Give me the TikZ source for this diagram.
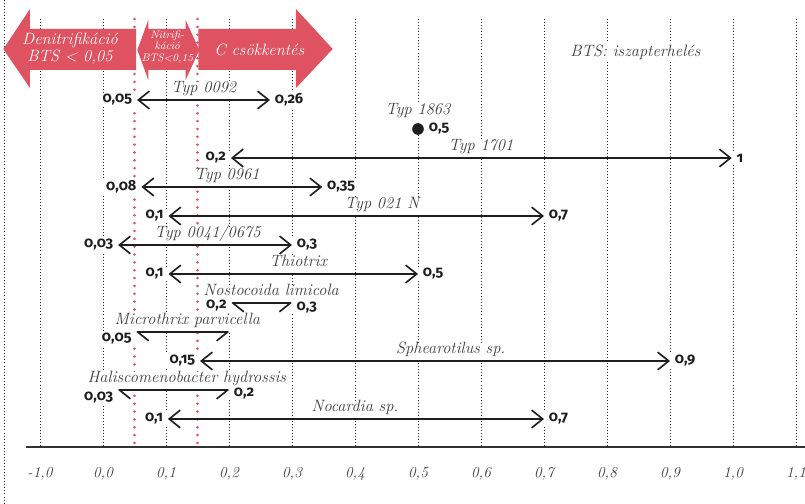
\documentclass[tikz,border=0pt]{standalone}
\usepackage{fontspec}
\usetikzlibrary{arrows.meta, positioning}

\newfontfamily\numfont[Numbers=OldStyle]{Fira Sans}
\definecolor{btsred}{RGB}{222,82,98}
\definecolor{labgray}{RGB}{62,62,62}
\definecolor{numblack}{RGB}{30,30,30}
\pgfdeclarelayer{gridlayer}
\pgfdeclarelayer{arrowlayer}
\pgfsetlayers{gridlayer,arrowlayer,main}

\tikzset{
  gridline/.style={line width=0.7pt, dash pattern=on 0.7pt off 1.9pt, black!85},
  redline/.style={line width=2.2pt, line cap=round, dash pattern=on 0.1pt off 6.6pt, btsred},
  band/.style={fill=btsred, draw=none},
  bandtext/.style={text=white, align=center, font=\itshape\fontsize{14}{14}\selectfont},
  lab/.style={fill=white, inner sep=0pt, anchor=south, text height=9pt, text depth=5pt, text=labgray, font=\itshape\fontsize{14}{15}\selectfont},
  num/.style={fill=white, inner xsep=4pt, inner ysep=1pt, text=numblack, font=\numfont\bfseries\fontsize{12.5}{14}\selectfont},
  spanarr/.style={line width=1.4pt, numblack, {Straight Barb[length=3.3mm,width=5.3mm]}-{Straight Barb[length=3.3mm,width=5.3mm]}},
  ticklab/.style={text=labgray, font=\itshape\fontsize{13}{14}\selectfont}
}

\begin{document}
\begin{tikzpicture}[x=18.9cm, y=-0.03cm]
  \useasboundingbox (-0.16349,0) rectangle (1.11429,504);

  % grid and axis
  \begin{pgfonlayer}{gridlayer}
  \draw[gridline] (-0.1571,0) -- (-0.1571,504);
  \foreach \v in {-0.1,0,0.1,0.2,0.3,0.4,0.5,0.6,0.7,0.8,0.9,1.0,1.1}
    \draw[gridline] (\v,19) -- (\v,447);
  \draw[redline] (0.05,19) -- (0.05,447);
  \draw[redline] (0.15,19) -- (0.15,447);
  \end{pgfonlayer}
  \draw[line width=1.6pt, black!80] (-0.122,447) -- (1.12,447);
  \foreach \v/\t [count=\i] in {-0.1/{-1,0}, 0/{0,0}, 0.1/{0,1}, 0.2/{0,2}, 0.3/{0,3}, 0.4/{0,4}, 0.5/{0,5}, 0.6/{0,6}, 0.7/{0,7}, 0.8/{0,8}, 0.9/{0,9}, 1.0/{1,0}, 1.1/{1,1}}
    \node[ticklab] (tick\i) at (\v,474) {\t};

  % red bands
  \fill[band] (-0.1583,49) -- (-0.1159,9) -- (-0.1159,29) -- (0.0524,29) -- (0.0524,70) -- (-0.1159,70) -- (-0.1159,88) -- cycle;
  \fill[band] (0.0545,50) -- (0.0719,20) -- (0.0719,29) -- (0.1312,29) -- (0.1312,20) -- (0.1529,50) -- (0.1312,80) -- (0.1312,70) -- (0.0719,70) -- (0.0719,80) -- cycle;
  \fill[band] (0.1513,29) -- (0.3063,29) -- (0.3063,9) -- (0.3646,49) -- (0.3063,88) -- (0.3063,70) -- (0.1513,70) -- cycle;
  \node[bandtext] (denitri) at (-0.0524,49) {Denitrifikáció\\BTS < 0,05};
  \node[bandtext, font=\itshape\fontsize{9.3}{9.8}\selectfont] (nitri) at (0.102,47) {Nitrifi-\\káció\\BTS<0,15};
  \node[bandtext] (ccsokk) at (0.248,50) {C csökkentés};
  \node[fill=white, inner sep=1pt, text=labgray, font=\itshape\fontsize{14}{15}\selectfont] (iszap) at (0.845,52) {BTS: iszapterhelés};

  % labels
  \node[lab] (t0092) at (0.160,99) {Typ 0092};
  \node[lab] (t1863) at (0.5,121) {Typ 1863};
  \node[lab] (t1701) at (0.600,157) {Typ 1701};
  \node[lab] (t0961) at (0.197,186) {Typ 0961};
  \node[lab] (t021) at (0.443,215) {Typ 021 N};
  \node[lab] (t0041) at (0.166,244) {Typ 0041/0675};
  \node[lab] (tthio) at (0.310,273) {Thiotrix};
  \node[lab] (tnost) at (0.267,302) {Nostocoida limicola};
  \node[lab] (tmicro) at (0.134,331) {Microthrix parvicella};
  \node[lab] (tsphe) at (0.552,360) {Sphearotilus sp.};
  \node[lab] (thali) at (0.133,389) {Haliscomenobacter hydrossis};
  \node[lab] (tnoca) at (0.400,418) {Nocardia sp.};

  % values
  \node[num, anchor=east] (l0092) at (0.054,100) {0,05};
  \node[num, anchor=west] (r0092) at (0.265,100) {0,26};
  \node[circle, fill=numblack, minimum size=3.5mm, inner sep=0pt] (d1863) at (0.5,129) {};
  \node[num, right=0pt of d1863] (n1863) {0,5};
  \node[num, anchor=east] (l1701) at (0.203,158) {0,2};
  \node[num, anchor=west] (r1701) at (0.998,158) {1};
  \node[num, anchor=east] (l0961) at (0.061,187) {0,08};
  \node[num, anchor=west] (r0961) at (0.348,187) {0,35};
  \node[num, anchor=east] (l021) at (0.104,216) {0,1};
  \node[num, anchor=west] (r021) at (0.700,216) {0,7};
  \node[num, anchor=east] (l0041) at (0.024,245) {0,03};
  \node[num, anchor=west] (r0041) at (0.300,245) {0,3};
  \node[num, anchor=east] (lthio) at (0.104,274) {0,1};
  \node[num, anchor=west] (rthio) at (0.500,274) {0,5};
  \coordinate (anost) at (0.204,303);
  \coordinate (bnost) at (0.2995,303);
  \node[num, anchor=east, yshift=-0.9mm] (lnost) at (anost) {0,2};
  \node[num, anchor=west, yshift=-1.3mm] (rnost) at (bnost) {0,3};
  \coordinate (amicro) at (0.053,332);
  \coordinate (bmicro) at (0.2,332);
  \node[num, anchor=east, yshift=-2.1mm] (lmicro) at (amicro) {0,05};
  \node[num, anchor=east] (lsphe) at (0.154,361) {0,15};
  \node[num, anchor=west] (rsphe) at (0.900,361) {0,9};
  \coordinate (ahali) at (0.024,390);
  \coordinate (bhali) at (0.200,390);
  \node[num, anchor=east, yshift=-2.4mm] (lhali) at (ahali) {0,03};
  \node[num, anchor=west, yshift=-1.1mm] (rhali) at (bhali) {0,2};
  \node[num, anchor=east] (lnoca) at (0.103,419) {0,1};
  \node[num, anchor=west] (rnoca) at (0.700,419) {0,7};

  % ranges, under the labels
  \begin{pgfonlayer}{arrowlayer}
  \draw[spanarr] (l0092.east) -- (r0092.west);
  \draw[spanarr] (l1701.east) -- (r1701.west);
  \draw[spanarr] (l0961.east) -- (r0961.west);
  \draw[spanarr] (l021.east) -- (r021.west);
  \draw[spanarr] (l0041.east) -- (r0041.west);
  \draw[spanarr] (lthio.east) -- (rthio.west);
  \draw[spanarr] (anost) -- (bnost);
  \draw[spanarr] (amicro) -- (bmicro);
  \draw[spanarr] (lsphe.east) -- (rsphe.west);
  \draw[spanarr] (ahali) -- (bhali);
  \draw[spanarr] (lnoca.east) -- (rnoca.west);
  \end{pgfonlayer}
\end{tikzpicture}
\end{document}
